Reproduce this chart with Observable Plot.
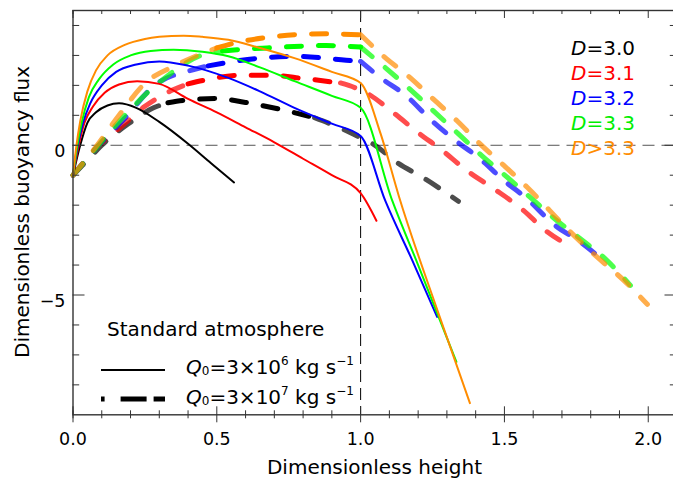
<!DOCTYPE html>
<html><head><meta charset="utf-8">
<script src="https://cdn.jsdelivr.net/npm/d3@7"></script>
<script src="https://cdn.jsdelivr.net/npm/@observablehq/plot@0.6"></script>
<style>body{margin:0;background:#fff} svg{font-family:"DejaVu Sans",sans-serif}</style>
</head><body><div id="chart"></div>
<script>
// ---- series definitions ----
const seriesLabels = ["=3.0", "=3.1", "=3.2", "=3.3", ">3.3"];
const seriesColors = ["#000000", "#ff0000", "#0000ff", "#00ff00", "#ff8c00"];

// Q0 = 3e6 kg/s (solid)
const lowX30 = [0,0.025,0.05,0.08,0.12,0.16,0.22,0.3,0.4,0.48,0.56];
const lowY30 = [-1,0,0.75,1.1,1.33,1.4,1.25,0.78,0.05,-0.6,-1.24];
const lowX31 = [0,0.02,0.04,0.07,0.11,0.16,0.223,0.3,0.4,0.5,0.6,0.7,0.8,0.9,1.0,1.055];
const lowY31 = [-1,0,0.75,1.3,1.75,2.03,2.14,2.05,1.55,1.1,0.6,0.1,-0.45,-1.0,-1.6,-2.52];
const lowX32 = [0,0.017,0.035,0.06,0.1,0.15,0.22,0.3,0.4,0.54,0.65,0.77,0.9,1.0,1.086,1.18,1.266];
const lowY32 = [-1,0,0.75,1.4,2.0,2.45,2.7,2.8,2.66,2.25,1.8,1.25,0.72,0.31,-1.86,-3.85,-5.73];
const lowX33 = [0,0.015,0.03,0.055,0.09,0.14,0.2,0.27,0.35,0.45,0.54,0.65,0.77,0.9,1.0,1.11,1.2,1.333];
const lowY33 = [-1,0,0.75,1.6,2.2,2.7,3.0,3.15,3.19,3.12,2.97,2.6,2.14,1.65,1.25,-1.85,-4.0,-7.23];
const lowX34 = [0,0.012,0.025,0.05,0.08,0.12,0.18,0.25,0.3,0.385,0.45,0.54,0.65,0.77,0.9,1.0,1.07,1.133,1.275,1.38];
const lowY34 = [-1,0,0.8,1.8,2.5,3.0,3.35,3.55,3.62,3.66,3.62,3.52,3.25,2.91,2.45,2.08,0.37,-1.7,-5.73,-8.61];

// Q0 = 3e7 kg/s (dashed)
const hiX30 = [0,0.05,0.1,0.19,0.28,0.33,0.385,0.5,0.6,0.72,0.84,0.94,1.0,1.045,1.127,1.22,1.34];
const hiY30 = [-1,-0.5,0,0.7,1.25,1.42,1.5,1.56,1.43,1.2,0.92,0.53,0.25,0.03,-0.58,-1.1,-1.87];
const hiX31 = [0,0.08,0.165,0.25,0.35,0.4,0.466,0.58,0.69,0.8,0.93,1.02,1.115,1.2,1.278,1.37,1.463,1.567,1.643,1.724];
const hiY31 = [-1,-0.1,0.6,1.3,1.86,2.05,2.19,2.34,2.34,2.23,2.08,1.75,1.08,0.42,-0.13,-0.85,-1.45,-2.18,-2.85,-3.35];
const hiX32 = [0,0.08,0.18,0.28,0.42,0.47,0.547,0.65,0.77,0.95,1.0,1.07,1.16,1.243,1.324,1.41,1.5,1.58,1.67,1.765,1.857];
const hiY32 = [-1,-0.1,0.9,1.97,2.53,2.65,2.78,2.91,2.97,2.84,2.8,2.25,1.64,0.86,0.2,-0.41,-1.19,-1.8,-2.63,-3.24,-3.96];
const hiX33 = [0,0.08,0.18,0.3,0.454,0.52,0.57,0.675,0.88,1.0,1.08,1.173,1.254,1.341,1.423,1.504,1.59,1.683,1.765,1.857,1.938];
const hiY33 = [-1,-0.1,1.0,2.1,3.03,3.15,3.19,3.25,3.33,3.28,2.64,1.86,1.14,0.37,-0.36,-1.02,-1.74,-2.52,-3.13,-3.85,-4.68];
const hiX34 = [0,0.08,0.16,0.246,0.362,0.454,0.5,0.56,0.675,0.77,0.88,1.0,1.08,1.173,1.254,1.336,1.417,1.5,1.58,1.73,1.823,1.915,1.997];
const hiY34 = [-1,-0.05,1.0,2.03,2.69,3.08,3.25,3.41,3.6,3.69,3.72,3.69,2.97,2.25,1.53,0.81,0.03,-0.69,-1.41,-2.9,-3.74,-4.51,-5.31];

// x-interval where each dashed curve is drawn at full strength
const hiStrong = [[0.33,0.84],[0.4,0.93],[0.47,1.0],[0.52,1.0],[0.5,1.0]];

// ticks
const xMajorTicks = [0, 0.5, 1.0, 1.5, 2.0];
const xMinorTicks = [0,0.1,0.2,0.3,0.4,0.6,0.7,0.8,0.9,1.1,1.2,1.3,1.4,1.6,1.7,1.8,1.9,2.1];
const yMajorTicks = [0, -5];
const yMinorTicks = [4,3,2,1,-1,-2,-3,-4,-6,-7,-8];

// ---- build tables ----
const lowXs = [lowX30, lowX31, lowX32, lowX33, lowX34];
const lowYs = [lowY30, lowY31, lowY32, lowY33, lowY34];
const hiXs = [hiX30, hiX31, hiX32, hiX33, hiX34];
const hiYs = [hiY30, hiY31, hiY32, hiY33, hiY34];

const solidRows = lowXs.flatMap((xs, k) => xs.map((x, j) => ({x, y: lowYs[k][j], k})));
const dashRows = hiXs.flatMap((xs, k) => {
  const [a, b] = hiStrong[k];
  const rows = [];
  xs.forEach((x, j) => {
    const y = hiYs[k][j];
    if (x <= a) rows.push({x, y, k, s: 0});
    if (x >= a && x <= b) rows.push({x, y, k, s: 1});
    if (x >= b) rows.push({x, y, k, s: 2});
  });
  return rows;
});

const W = 673, H = 481, mL = 72.5, mR = -3.5, mT = 10, mB = 66.7;
const innerW = W - mL - mR, innerH = H - mT - mB;
const tickStroke = "#333";

const plot = Plot.plot({
  width: W,
  height: H,
  marginLeft: mL,
  marginRight: mR,
  marginTop: mT,
  marginBottom: mB,
  style: {fontFamily: "DejaVu Sans, sans-serif", fontSize: "17.5px", color: "black", background: "white", overflow: "visible"},
  x: {domain: [0, 2.1], label: null},
  y: {domain: [-9, 4.5], label: null},
  color: {type: "identity"},
  marks: [
    Plot.ruleY([0], {stroke: "#555", strokeWidth: 1, strokeDasharray: "12,7"}),
    Plot.ruleX([1], {stroke: "#000", strokeWidth: 1, strokeDasharray: "12,6"}),
    // dashed, faint parts then strong parts
    ...[0,1,2,3,4].flatMap(k => [
      Plot.line(dashRows.filter(d => d.k === k && d.s !== 1), {x: "x", y: "y", z: "s", stroke: seriesColors[k], strokeOpacity: 0.7, strokeWidth: 5, strokeDasharray: "15,17", curve: "monotone-x"}),
      Plot.line(dashRows.filter(d => d.k === k && d.s === 1), {x: "x", y: "y", stroke: seriesColors[k], strokeWidth: 5, strokeDasharray: "15,17", curve: "monotone-x"})
    ]),
    Plot.line(solidRows, {x: "x", y: "y", z: "k", stroke: d => seriesColors[d.k], strokeWidth: 2, curve: "monotone-x"}),
    Plot.frame({stroke: tickStroke, strokeWidth: 1.4}),
    // bottom ticks (crossing the axis)
    Plot.tickX(xMinorTicks, {stroke: tickStroke, insetTop: innerH - 4, insetBottom: -4}),
    Plot.tickX(xMajorTicks, {stroke: tickStroke, insetTop: innerH - 8, insetBottom: -8}),
    // top ticks (inward)
    Plot.tickX(xMinorTicks, {stroke: tickStroke, insetBottom: innerH - 4}),
    Plot.tickX(xMajorTicks, {stroke: tickStroke, insetBottom: innerH - 8}),
    // left ticks (inward)
    Plot.tickY(yMinorTicks, {stroke: tickStroke, insetRight: innerW - 6.7}),
    Plot.tickY(yMajorTicks, {stroke: tickStroke, insetRight: innerW - 12}),
    // right ticks (inward)
    Plot.tickY(yMinorTicks, {stroke: tickStroke, insetLeft: innerW - 6.7}),
    Plot.tickY(yMajorTicks, {stroke: tickStroke, insetLeft: innerW - 12}),
    // tick labels
    Plot.axisX(xMajorTicks, {anchor: "bottom", tickSize: 0, tickPadding: 17.5, tickFormat: d3.format(".1f"), label: null, fontSize: 17.5}),
    Plot.axisY(yMajorTicks, {anchor: "left", tickSize: 0, tickPadding: 7.5, dy: 6, label: null, fontSize: 17.5})
  ]
});

document.getElementById("chart").append(plot);

// ---- annotations ----
const svg = d3.select(plot);
const g = svg.append("g").attr("font-family", "DejaVu Sans, sans-serif").attr("font-size", 20).attr("text-anchor", "start").attr("fill", "black");

g.append("text").attr("x", 374.5).attr("y", 473.5).attr("text-anchor", "middle").text("Dimensionless height");
g.append("text").attr("transform", "translate(29,212) rotate(-90)").attr("text-anchor", "middle").text("Dimensionless buoyancy flux");

// D legend
seriesLabels.forEach((lab, i) => {
  const t = g.append("text").attr("x", 571).attr("y", 55 + 25 * i).attr("fill", seriesColors[i] === "#00ff00" ? "#00ee00" : seriesColors[i]);
  t.append("tspan").attr("font-style", "italic").text("D");
  t.append("tspan").text(lab);
});

// Q legend
g.append("text").attr("x", 107).attr("y", 336).text("Standard atmosphere");
g.append("line").attr("x1", 101).attr("x2", 165).attr("y1", 370).attr("y2", 370).attr("stroke", "#000").attr("stroke-width", 2);
g.append("line").attr("x1", 101).attr("x2", 165).attr("y1", 399).attr("y2", 399).attr("stroke", "#000").attr("stroke-width", 5).attr("stroke-dasharray", "3.6,16,26,7,12,60");
const qLabels = [["6", 374], ["7", 403.5]];
qLabels.forEach(([exp, yy]) => {
  const t = g.append("text").attr("x", 186).attr("y", yy);
  t.append("tspan").attr("font-style", "italic").text("Q");
  t.append("tspan").attr("font-size", 12).attr("dy", 1).text("0");
  t.append("tspan").attr("dy", -1).text("=3×10");
  t.append("tspan").attr("font-size", 12).attr("dy", -9).text(exp);
  t.append("tspan").attr("dy", 9).text(" kg s");
  t.append("tspan").attr("font-size", 12).attr("dy", -9).text("−1");
});
</script>
</body></html>
